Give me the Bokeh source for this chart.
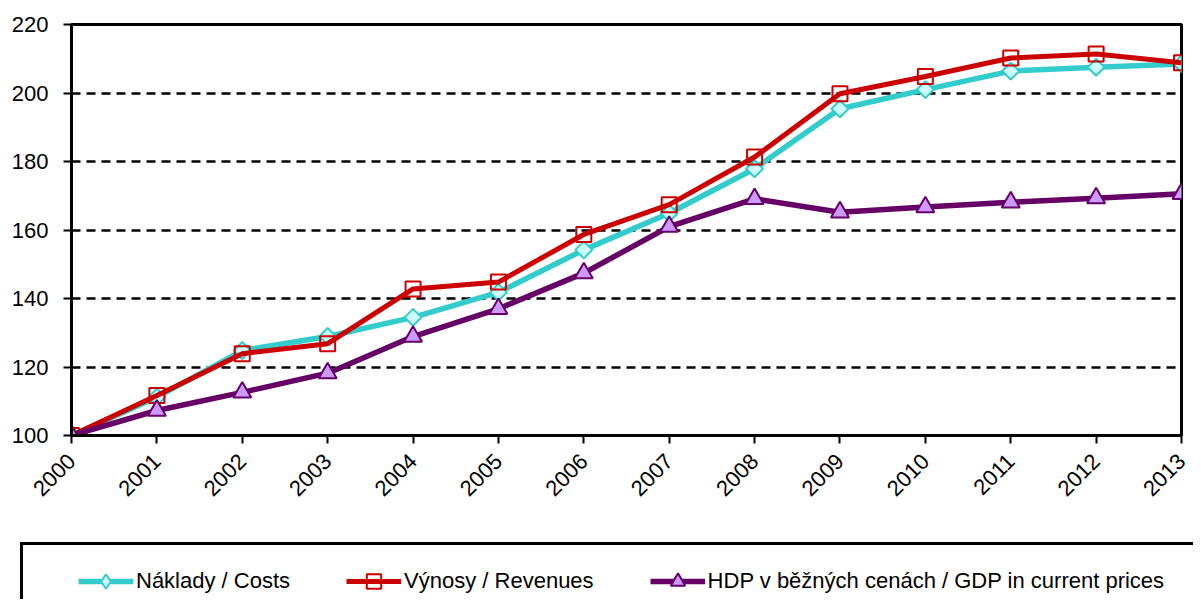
import math
from bokeh.plotting import figure
from bokeh.layouts import column
from bokeh.models import Legend, LegendItem, FixedTicker, Range1d
from bokeh.embed import file_html
from bokeh.resources import INLINE

years = list(range(2000, 2014))
costs = [100, 111.2, 124.8, 128.9, 134.5, 141.8, 154.2, 164.9, 177.9, 195.4, 201.0, 206.4, 207.5, 208.5]
revenues = [100, 111.7, 123.9, 126.8, 142.8, 144.8, 158.7, 167.4, 181.3, 199.8, 204.8, 210.2, 211.4, 208.8]
gdp = [100, 107.3, 112.6, 118.2, 128.9, 137.0, 147.4, 161.0, 169.1, 165.2, 166.7, 168.1, 169.3, 170.6]

y_ticks = [100, 120, 140, 160, 180, 200, 220]
labels = ["Náklady / Costs", "Výnosy / Revenues", "HDP v běžných cenách / GDP in current prices"]

FONT = "Liberation Sans"
C_COST, C_COST_FILL = "#33CCCC", "#CCFFFF"
C_REV = "#CC0000"
C_GDP, C_GDP_FILL = "#660066", "#CC99FF"

W = 1193
H_MAIN = 540
H_LEG = 59

p = figure(width=W, height=H_MAIN, output_backend="svg", toolbar_location=None,
           x_range=Range1d(2000, 2013), y_range=Range1d(100, 220),
           min_border_left=71, min_border_right=12, min_border_top=24, min_border_bottom=105)
p.frame_align = False

p.outline_line_color = "black"
p.outline_line_width = 3
p.outline_line_alpha = 1.0
p.background_fill_color = "white"
p.border_fill_color = "white"

p.xgrid.grid_line_color = None
p.ygrid.grid_line_color = "black"
p.ygrid.grid_line_width = 2.5
p.ygrid.grid_line_dash = "9 6"
p.ygrid.ticker = FixedTicker(ticks=y_ticks)

p.yaxis.ticker = FixedTicker(ticks=y_ticks)
p.xaxis.ticker = FixedTicker(ticks=years)
for ax in (p.xaxis[0], p.yaxis[0]):
    ax.axis_line_color = "black"
    ax.axis_line_width = 3
    ax.major_tick_line_color = "black"
    ax.major_tick_line_width = 2
    ax.major_tick_in = 0
    ax.major_tick_out = 8
    ax.minor_tick_line_color = None
    ax.major_label_text_font = FONT
    ax.major_label_text_font_size = "22px"
    ax.major_label_text_color = "black"
p.yaxis.major_label_standoff = 15
p.xaxis.major_label_standoff = 14
p.xaxis.major_label_orientation = math.pi / 4


def draw(fig, cost_marker, cost_angle, cost_size):
    r1l = fig.line(years, costs, line_color=C_COST, line_width=5.5)
    r1m = fig.scatter(years, costs, marker=cost_marker, angle=cost_angle, size=cost_size,
                      fill_color=C_COST_FILL, line_color=C_COST, line_width=2)
    r2l = fig.line(years, revenues, line_color=C_REV, line_width=5)
    r2m = fig.scatter(years, revenues, marker="square", size=15,
                      fill_color="white", fill_alpha=0.0, line_color=C_REV, line_width=2)
    r3l = fig.line(years, gdp, line_color=C_GDP, line_width=5.5)
    r3m = fig.scatter(years, gdp, marker="triangle", size=18,
                      fill_color=C_GDP_FILL, line_color=C_GDP, line_width=2)
    return (r1l, r1m), (r2l, r2m), (r3l, r3m)


draw(p, "square", math.pi / 4, 12)

# legend strip: a second figure whose ranges keep its series out of view
q = figure(width=W, height=H_LEG, output_backend="svg", toolbar_location=None,
           x_range=Range1d(0, 1), y_range=Range1d(0, 1),
           x_axis_type=None, y_axis_type=None,
           min_border_left=0, min_border_right=0, min_border_top=0, min_border_bottom=0)
q.frame_align = False
q.outline_line_color = None
q.grid.visible = False
q.background_fill_color = "white"
q.border_fill_color = "white"

r_dummy = q.line(years, costs, line_alpha=0)
items = draw(q, "diamond", 0.0, 17)

box = Legend(items=[LegendItem(label=" ", renderers=[r_dummy])], location=(20, -49),
             padding=40, glyph_width=20, glyph_height=20, label_height=20, label_width=1250,
             border_line_color="black", border_line_width=3, border_line_alpha=1.0,
             background_fill_color="white", background_fill_alpha=1.0,
             label_text_font_size="10px")
q.add_layout(box, "center")

legend = Legend(items=[LegendItem(label=lab, renderers=list(rs)) for lab, rs in zip(labels, items)],
                location=(68, -10), orientation="horizontal",
                padding=10, spacing=56, glyph_width=55, glyph_height=36,
                label_height=36, label_standoff=3,
                label_text_font=FONT, label_text_font_size="22px", label_text_color="black",
                border_line_alpha=0, background_fill_alpha=0)
q.add_layout(legend, "center")

layout = column(p, q, spacing=0)
open("out.html", "w").write(file_html(layout, INLINE))
